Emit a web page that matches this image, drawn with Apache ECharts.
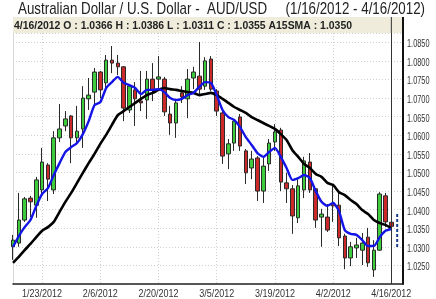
<!DOCTYPE html>
<html><head><meta charset="utf-8">
<script src="https://cdn.jsdelivr.net/npm/echarts@6/dist/echarts.min.js"></script>
<style>html,body{margin:0;padding:0;background:#fff}#c{width:436px;height:299px}</style>
</head><body><div id="c"></div>
<script>
const dates = ['1/16/2012','1/17/2012','1/18/2012','1/19/2012','1/20/2012',
'1/23/2012','1/24/2012','1/25/2012','1/26/2012','1/27/2012',
'1/30/2012','1/31/2012','2/1/2012','2/2/2012','2/3/2012',
'2/6/2012','2/7/2012','2/8/2012','2/9/2012','2/10/2012',
'2/13/2012','2/14/2012','2/15/2012','2/16/2012','2/17/2012',
'2/20/2012','2/21/2012','2/22/2012','2/23/2012','2/24/2012',
'2/27/2012','2/28/2012','2/29/2012','3/1/2012','3/2/2012',
'3/5/2012','3/6/2012','3/7/2012','3/8/2012','3/9/2012',
'3/12/2012','3/13/2012','3/14/2012','3/15/2012','3/16/2012',
'3/19/2012','3/20/2012','3/21/2012','3/22/2012','3/23/2012',
'3/26/2012','3/27/2012','3/28/2012','3/29/2012','3/30/2012',
'4/2/2012','4/3/2012','4/4/2012','4/5/2012','4/6/2012',
'4/9/2012','4/10/2012','4/11/2012','4/12/2012','4/13/2012',
'4/16/2012'];
const extraDates = ['4/17/2012','4/18/2012'];
const opens = [1.0300,1.0310,1.0372,1.0431,1.0412,1.0453,1.0520,1.0453,1.0593,1.0625,
1.0652,1.0593,1.0617,1.0698,1.0716,1.0770,1.0741,1.0802,1.0794,1.0784,
1.0668,1.0722,1.0692,1.0695,1.0751,1.0751,1.0751,1.0657,1.0633,1.0714,
1.0698,1.0754,1.0759,1.0732,1.0805,1.0719,1.0660,1.0550,1.0579,1.0649,
1.0558,1.0512,1.0539,1.0450,1.0523,1.0582,1.0614,1.0472,1.0456,1.0378,
1.0453,1.0528,1.0456,1.0380,1.0380,1.0418,1.0412,1.0329,1.0270,1.0297,
1.0291,1.0326,1.0238,1.0291,1.0437,1.0366];
const closes = [1.0318,1.0372,1.0429,1.0421,1.0480,1.0528,1.0482,1.0593,1.0617,1.0644,
1.0593,1.0611,1.0700,1.0708,1.0770,1.0722,1.0802,1.0794,1.0784,1.0673,
1.0732,1.0698,1.0687,1.0751,1.0722,1.0757,1.0663,1.0633,1.0687,1.0703,
1.0751,1.0770,1.0724,1.0800,1.0724,1.0665,1.0544,1.0577,1.0638,1.0571,
1.0499,1.0536,1.0450,1.0517,1.0579,1.0609,1.0474,1.0456,1.0383,1.0464,
1.0531,1.0453,1.0372,1.0388,1.0345,1.0410,1.0324,1.0270,1.0300,1.0305,
1.0310,1.0257,1.0291,1.0442,1.0367,1.0355];
const lows = [1.0265,1.0300,1.0367,1.0380,1.0378,1.0439,1.0423,1.0442,1.0582,1.0611,
1.0525,1.0574,1.0566,1.0668,1.0679,1.0700,1.0727,1.0767,1.0762,1.0638,
1.0660,1.0625,1.0665,1.0644,1.0692,1.0727,1.0652,1.0601,1.0593,1.0687,
1.0646,1.0724,1.0711,1.0722,1.0719,1.0652,1.0523,1.0509,1.0558,1.0558,
1.0469,1.0482,1.0423,1.0418,1.0504,1.0558,1.0450,1.0418,1.0335,1.0364,
1.0431,1.0445,1.0351,1.0300,1.0340,1.0367,1.0302,1.0240,1.0248,1.0270,
1.0251,1.0246,1.0219,1.0289,1.0353,1.0311];
const highs = [1.0332,1.0445,1.0434,1.0437,1.0488,1.0566,1.0525,1.0611,1.0684,1.0665,
1.0654,1.0679,1.0732,1.0754,1.0781,1.0773,1.0816,1.0840,1.0816,1.0786,
1.0738,1.0743,1.0773,1.0773,1.0794,1.0813,1.0757,1.0679,1.0695,1.0732,
1.0778,1.0784,1.0851,1.0810,1.0813,1.0724,1.0665,1.0590,1.0644,1.0657,
1.0563,1.0558,1.0544,1.0539,1.0590,1.0630,1.0620,1.0499,1.0466,1.0485,
1.0542,1.0552,1.0458,1.0402,1.0415,1.0469,1.0447,1.0335,1.0313,1.0324,
1.0337,1.0351,1.0318,1.0447,1.0445,1.0386];
const fastMA = [1.0300,1.0329,1.0353,1.0372,1.0410,1.0442,1.0458,1.0493,1.0525,1.0555,
1.0568,1.0579,1.0603,1.0638,1.0681,1.0689,1.0727,1.0743,1.0757,1.0741,
1.0735,1.0727,1.0711,1.0722,1.0722,1.0724,1.0716,1.0700,1.0695,1.0698,
1.0708,1.0714,1.0730,1.0743,1.0741,1.0708,1.0668,1.0649,1.0641,1.0622,
1.0595,1.0574,1.0552,1.0542,1.0555,1.0566,1.0542,1.0512,1.0480,1.0485,
1.0493,1.0485,1.0450,1.0421,1.0410,1.0418,1.0396,1.0345,1.0335,1.0332,
1.0318,1.0302,1.0302,1.0326,1.0343,1.0348];
const sma15 = [1.0257,1.0273,1.0291,1.0308,1.0326,1.0343,1.0353,1.0367,1.0394,1.0421,
1.0445,1.0472,1.0499,1.0525,1.0550,1.0577,1.0601,1.0628,1.0654,1.0665,
1.0676,1.0687,1.0698,1.0708,1.0714,1.0722,1.0727,1.0724,1.0722,1.0719,
1.0716,1.0714,1.0708,1.0711,1.0714,1.0708,1.0698,1.0687,1.0676,1.0668,
1.0660,1.0649,1.0641,1.0633,1.0625,1.0617,1.0603,1.0587,1.0560,1.0542,
1.0523,1.0512,1.0496,1.0488,1.0472,1.0466,1.0447,1.0439,1.0426,1.0415,
1.0399,1.0388,1.0372,1.0364,1.0359,1.0350];
const projRange = [1.0388, 1.0294];
const yTickValues = [1.0250,1.0300,1.0350,1.0400,1.0450,1.0500,1.0550,1.0600,1.0650,1.0700,1.0750,1.0800,1.0850];
const xTickLabels = ['1/23/2012','2/6/2012','2/20/2012','3/5/2012','3/19/2012','4/2/2012','4/16/2012'];
const titleText = 'Australian Dollar / U.S. Dollar -  AUD/USD     (1/16/2012 - 4/16/2012)';
const headerText = '4/16/2012 O : 1.0366 H : 1.0386 L : 1.0311 C : 1.0355 A15SMA : 1.0350';

const cats = dates.concat(extraDates);
const FONT = "'Liberation Sans',Arial,sans-serif";
const isLabelCat = i => xTickLabels.indexOf(cats[i]) >= 0;

const mctx = document.createElement('canvas').getContext('2d');
function widthOf(text, size, weight) {
  mctx.font = (weight || 'normal') + ' ' + size + 'px ' + FONT;
  return mctx.measureText(text).width;
}

const chart = echarts.init(document.getElementById('c'), null, {renderer:'canvas'});
chart.setOption({
  animation: false,
  backgroundColor: '#fff',
  grid: {left: 13, right: 33, top: 33, bottom: 15, containLabel: false, outerBoundsMode: 'none'},
  xAxis: {
    type: 'category', data: cats, boundaryGap: false,
    axisLine: {show: true, lineStyle: {color: '#222', width: 1.5}},
    axisTick: {show: false},
    axisLabel: {show: false},
    splitLine: {show: true, interval: isLabelCat, lineStyle: {color: '#d0d0d0', type: [1, 2], width: 1}}
  },
  yAxis: {
    type: 'value', position: 'right', min: 1.02, max: 1.0875, interval: 0.005,
    axisLine: {show: true, lineStyle: {color: '#111', width: 2}},
    axisTick: {show: false},
    axisLabel: {show: false},
    splitLine: {show: true, lineStyle: {color: '#d0d0d0', type: [1, 2], width: 1}}
  },
  series: [
    {
      type: 'candlestick', barWidth: 4,
      data: dates.map((d, i) => [opens[i], closes[i], lows[i], highs[i]]),
      itemStyle: {color: '#3ccc3c', color0: '#cc2a2a', borderColor: '#2a2a2a', borderColor0: '#2a2a2a', borderWidth: 1},
      markLine: {
        symbol: 'none', silent: true, label: {show: false},
        lineStyle: {color: '#333', width: 1, type: 'solid'},
        data: [{xAxis: dates[dates.length - 1]}]
      }
    },
    {
      type: 'line', data: sma15, showSymbol: false, smooth: 0.2,
      lineStyle: {color: '#000', width: 2.6}, z: 3
    },
    {
      type: 'line', data: fastMA, showSymbol: false, smooth: 0.2,
      lineStyle: {color: '#1414e6', width: 2.4}, z: 4
    },
    {
      type: 'line', showSymbol: false,
      data: [[extraDates[0], projRange[0]], [extraDates[0], projRange[1]]],
      lineStyle: {color: '#1c3c8c', width: 2, type: [3, 2]}, z: 4
    }
  ]
});

const lastX = chart.convertToPixel({xAxisIndex: 0}, dates[dates.length - 1]);
const firstX = chart.convertToPixel({xAxisIndex: 0}, dates[0]);
const topY = chart.convertToPixel({yAxisIndex: 0}, 1.0875);
const botY = chart.convertToPixel({yAxisIndex: 0}, 1.02);
const axX = chart.convertToPixel({xAxisIndex: 0}, extraDates[1]);

const titleScale = 407 / widthOf(titleText, 17);
const headScale = 338 / widthOf(headerText, 11, 'bold');
const xLabScale = 40 / widthOf('1/23/2012', 11.5);
const yLabScale = 22.5 / widthOf('1.0850', 10.5);

const g = [
  {type: 'rect', shape: {x: firstX, y: 17, width: axX - firstX, height: topY - 17}, style: {fill: '#efecdc'}, z: 0},
  {type: 'line', shape: {x1: lastX, y1: 17, x2: lastX, y2: topY}, style: {stroke: '#333', lineWidth: 1}},
  {type: 'line', shape: {x1: axX, y1: 17, x2: axX, y2: topY}, style: {stroke: '#111', lineWidth: 2}},
  {type: 'line', shape: {x1: firstX + 0.5, y1: topY, x2: firstX + 0.5, y2: botY}, style: {stroke: '#d8d8d8', lineWidth: 1}},
  {type: 'text', x: 18, y: 1, scaleX: titleScale,
   style: {text: titleText, fontSize: 17, fontFamily: FONT, fill: '#222', textAlign: 'left', textVerticalAlign: 'top'}},
  {type: 'text', x: 14, y: 25.5, scaleX: headScale,
   style: {text: headerText, fontSize: 11, fontWeight: 'bold', fontFamily: FONT, fill: '#222', textAlign: 'left', textVerticalAlign: 'middle'}}
];
xTickLabels.forEach(lab => {
  const px = chart.convertToPixel({xAxisIndex: 0}, lab);
  g.push({type: 'text', x: px, y: 293.5, scaleX: xLabScale,
    style: {text: lab, fontSize: 11.5, fontFamily: FONT, fill: '#333', textAlign: 'center', textVerticalAlign: 'middle'}});
});
yTickValues.forEach(v => {
  const py = chart.convertToPixel({yAxisIndex: 0}, v);
  g.push({type: 'text', x: 407, y: py + 2, scaleX: yLabScale,
    style: {text: v.toFixed(4), fontSize: 10.5, fontFamily: FONT, fill: '#333', textAlign: 'left', textVerticalAlign: 'middle'}});
});
chart.setOption({graphic: g});
</script></body></html>
